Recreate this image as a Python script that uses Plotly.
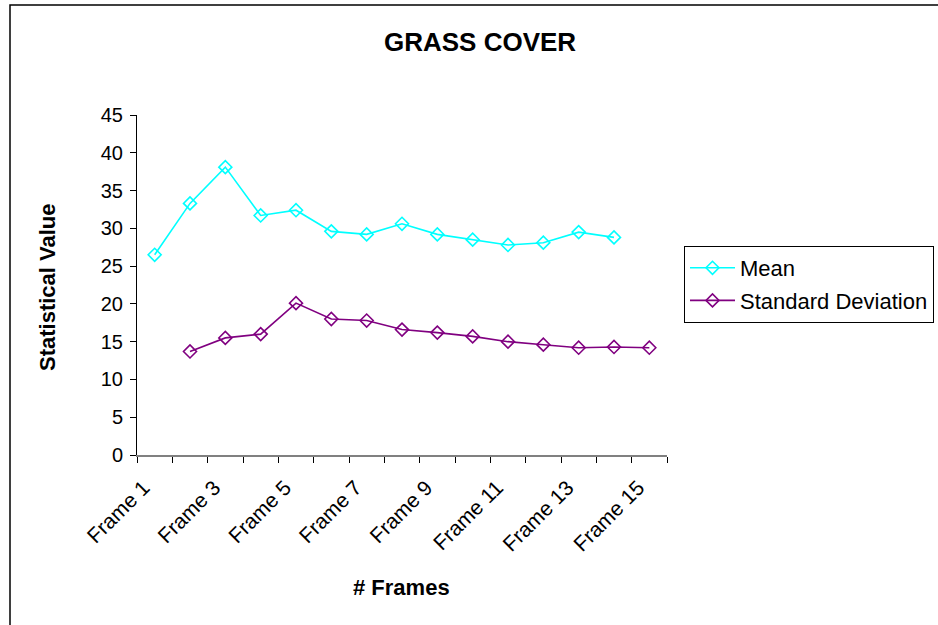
import plotly.graph_objects as go

frames = [f"Frame {i}" for i in range(1, 16)]
tick_text = [f if (i % 2 == 0) else "" for i, f in enumerate(frames)]
mean_vals = [26.5, 33.3, 38.1, 31.7, 32.4, 29.6, 29.2, 30.6, 29.2, 28.5, 27.8, 28.1, 29.5, 28.8, None]
sd_vals = [None, 13.7, 15.5, 16.0, 20.1, 18.0, 17.8, 16.6, 16.2, 15.7, 15.0, 14.6, 14.2, 14.3, 14.2]
y_ticks = [0, 5, 10, 15, 20, 25, 30, 35, 40, 45]

W, H = 938, 625
L, R, T, B = 137, 667, 115, 455

fig = go.Figure()
fig.add_trace(go.Scatter(
    x=frames, y=mean_vals, mode="lines+markers", name="Mean",
    line=dict(color="#00FFFF", width=1.6),
    marker=dict(symbol="diamond-open", size=10, color="#00FFFF", line=dict(width=1.6)),
    legendgroup="a", connectgaps=False,
))
fig.add_trace(go.Scatter(
    x=frames, y=sd_vals, mode="lines+markers", name="Standard Deviation",
    line=dict(color="#800080", width=1.6),
    marker=dict(symbol="diamond-open", size=10, color="#800080", line=dict(width=1.6)),
    legendgroup="b", connectgaps=False,
))

font_family = "Liberation Sans, Arial, sans-serif"

fig.update_layout(
    width=W, height=H,
    margin=dict(l=L, r=W - R, t=T, b=H - B, pad=0, autoexpand=False),
    paper_bgcolor="white", plot_bgcolor="white",
    font=dict(family=font_family, size=20, color="black"),
    showlegend=True,
    legend=dict(
        x=(684 - L) / (R - L), y=(B - 246) / (B - T), xanchor="left", yanchor="top",
        bordercolor="black", borderwidth=1, bgcolor="white",
        font=dict(size=22), tracegroupgap=1, itemwidth=45,
    ),
    xaxis=dict(
        type="category", categoryorder="array", categoryarray=frames,
        tickmode="array", tickvals=frames, ticktext=tick_text,
        tickson="boundaries", ticks="outside", ticklen=6, tickcolor="black",
        tickangle=-45, showgrid=False, zeroline=False,
        showline=True, linecolor="#808080", linewidth=2,
        range=[-0.5, 14.5], tickfont=dict(size=21),
        ticklabelstandoff=10, ticklabelshift=-11, automargin=False,
    ),
    yaxis=dict(
        range=[0, 45], tickmode="array", tickvals=y_ticks,
        ticks="outside", ticklen=6, tickcolor="black",
        showgrid=False, zeroline=False, showline=True, linecolor="black", linewidth=1,
        tickfont=dict(size=20), automargin=False, ticklabelstandoff=3,
    ),
    annotations=[
        dict(text="<b>GRASS COVER</b>", xref="paper", yref="paper",
             x=(480 - L) / (R - L), y=(B - 42) / (B - T), xanchor="center", yanchor="middle",
             showarrow=False, font=dict(size=26)),
        dict(text="<b>Statistical Value</b>", xref="paper", yref="paper",
             x=(47 - L) / (R - L), y=(B - 287) / (B - T), xanchor="center", yanchor="middle",
             textangle=-90, showarrow=False, font=dict(size=22)),
        dict(text="<b># Frames</b>", xref="paper", yref="paper",
             x=(401 - L) / (R - L), y=(B - 587) / (B - T), xanchor="center", yanchor="middle",
             showarrow=False, font=dict(size=22)),
    ],
    shapes=[
        dict(type="rect", xref="paper", yref="paper",
             x0=(10 - L) / (R - L), x1=(1200 - L) / (R - L),
             y0=(B - 900) / (B - T), y1=(B - 5) / (B - T),
             line=dict(color="black", width=1.5), fillcolor="rgba(0,0,0,0)", layer="below"),
    ],
)

fig.write_html("out.html")
